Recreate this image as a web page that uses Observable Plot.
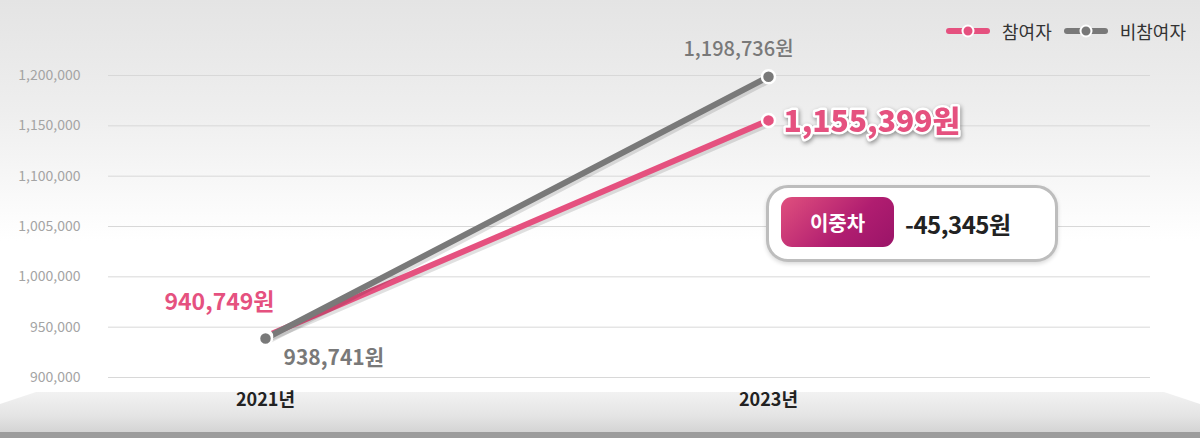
<!DOCTYPE html>
<html><head><meta charset="utf-8">
<script src="https://cdn.jsdelivr.net/npm/d3@7"></script>
<script src="https://cdn.jsdelivr.net/npm/@observablehq/plot@0.6"></script>
<style>
html,body{margin:0;padding:0;}
body{width:1200px;height:438px;overflow:hidden;font-family:"Noto Sans CJK KR","Noto Sans",sans-serif;}
#wrap{position:relative;width:1200px;height:438px;background:linear-gradient(to bottom,#e4e4e4 0%,#eeeeee 25%,#fbfbfb 48%,#ffffff 55%,#ffffff 100%);}
#band{position:absolute;left:0;top:392px;width:1200px;height:40px;background:linear-gradient(to bottom,#f2f2f2 0%,#e4e4e4 60%,#d4d4d4 100%);clip-path:polygon(3% 0,97% 0,100% 30%,100% 100%,0 100%,0 30%);}
#band2{position:absolute;left:0;top:432px;width:1200px;height:6px;background:#9c9c9c;}
#chart{position:absolute;left:0;top:0;}
#legend{position:absolute;top:18px;right:14px;display:flex;align-items:center;gap:8px;font-size:18px;color:#333;}
#legend .it{display:flex;align-items:center;gap:12px;margin-left:4px;}
#box{position:absolute;left:766px;top:185px;width:286px;height:71px;border:3px solid #bdbdbd;border-radius:22px;background:#fff;box-shadow:0 2px 4px rgba(0,0,0,0.15);}
#pill{position:absolute;left:12px;top:9px;width:113px;height:50px;border-radius:11px;background:linear-gradient(135deg,#e0507e 0%,#b01d70 60%,#9a1468 100%);color:#fff;font-weight:700;font-size:20px;display:flex;align-items:center;justify-content:center;}
#diff{position:absolute;left:136px;top:0;height:71px;display:flex;align-items:center;font-weight:700;font-size:24px;color:#222;letter-spacing:-0.5px;}
</style></head>
<body>
<div id="wrap">
  <div id="band"></div><div id="band2"></div>
  <div id="chart"></div>
  <div id="legend"></div>
  <div id="box"><div id="pill"></div><div id="diff"></div></div>
</div>
<script>
const years = [2021, 2023];
const participants = [940749, 1155399];
const nonParticipants = [938741, 1198736];
const seriesNames = ["참여자", "비참여자"];
const tickValues = [900000, 950000, 1000000, 1050000, 1100000, 1150000, 1200000];
const tickLabels = ["900,000", "950,000", "1,000,000", "1,005,000", "1,100,000", "1,150,000", "1,200,000"];
const diffLabel = "이중차";
const diffValue = "-45,345원";

const pink = "#e5517f", gray = "#797979";
const fmt = v => d3.format(",")(v) + "원";

const pData = years.map((y, i) => ({year: y, value: participants[i]}));
const nData = years.map((y, i) => ({year: y, value: nonParticipants[i]}));

const plot = Plot.plot({
  width: 1200, height: 438,
  marginLeft: 108, marginRight: 50, marginTop: 75, marginBottom: 61,
  style: {background: "transparent", fontFamily: "'Noto Sans CJK KR', sans-serif"},
  x: {domain: [2021, 2023], range: [265, 768], label: null},
  y: {domain: [900000, 1200000], range: [377, 75], label: null},
  marks: [
    Plot.gridY(tickValues, {stroke: "#d8d8d8", strokeOpacity: 1, strokeWidth: 1}),
    Plot.axisY(tickValues, {tickSize: 0, tickPadding: 28, fontSize: 14, fill: "#a4a4a4", label: null, tickFormat: (d) => tickLabels[tickValues.indexOf(d)], letterSpacing: "-0.5px"}),
    Plot.axisX(years, {anchor: "bottom", tickSize: 0, tickPadding: 16, fontSize: 18, fontWeight: 700, fill: "#222", label: null, tickFormat: d => d + "년"}),
    // shadows
    Plot.line(pData, {x: "year", y: "value", stroke: "#000", strokeOpacity: 0.12, strokeWidth: 7, dx: 1.5, dy: 2.5}),
    Plot.line(pData, {x: "year", y: "value", stroke: pink, strokeWidth: 6}),
    Plot.line(nData, {x: "year", y: "value", stroke: "#000", strokeOpacity: 0.12, strokeWidth: 7, dx: 1.5, dy: 2.5}),
    Plot.line(nData, {x: "year", y: "value", stroke: gray, strokeWidth: 6}),
    Plot.dot(pData, {x: "year", y: "value", r: 6.5, fill: pink, stroke: "#fff", strokeWidth: 2.5}),
    Plot.dot(nData, {x: "year", y: "value", r: 6.5, fill: gray, stroke: "#fff", strokeWidth: 2.5}),
    // labels
    Plot.text([pData[0]], {x: "year", y: "value", text: d => fmt(d.value), fill: pink, fontSize: 23, fontWeight: 700, dx: -46, dy: -34, textAnchor: "middle"}),
    Plot.text([nData[0]], {x: "year", y: "value", text: d => fmt(d.value), fill: gray, fontSize: 21, fontWeight: 700, dx: 18, dy: 20, textAnchor: "start"}),
    Plot.text([nData[1]], {x: "year", y: "value", text: d => fmt(d.value), fill: gray, fontSize: 20, fontWeight: 500, dx: -30, dy: -27, textAnchor: "middle"}),
    Plot.text([pData[1]], {x: "year", y: "value", text: d => fmt(d.value), fill: pink, fontSize: 30, fontWeight: 800, dx: 15, dy: 2, textAnchor: "start", stroke: "#fff", strokeWidth: 5, paintOrder: "stroke"})
  ]
});
document.getElementById("chart").appendChild(plot);
// drop shadow on the highlighted label (last text group)
const textGroups = plot.querySelectorAll('g[aria-label="text"]');
textGroups[textGroups.length - 1].style.filter = "drop-shadow(1.5px 2.5px 2px rgba(0,0,0,0.4))";

const colors = [pink, gray];
document.getElementById("legend").innerHTML = seriesNames.map((n, i) =>
  `<div class="it"><svg width="44" height="14"><line x1="3" y1="7" x2="41" y2="7" stroke="${colors[i]}" stroke-width="6" stroke-linecap="round"/><circle cx="22" cy="7" r="5.5" fill="${colors[i]}" stroke="#fff" stroke-width="2"/></svg><span>${n}</span></div>`
).join("");
document.getElementById("pill").textContent = diffLabel;
document.getElementById("diff").textContent = diffValue;
</script>
</body></html>
